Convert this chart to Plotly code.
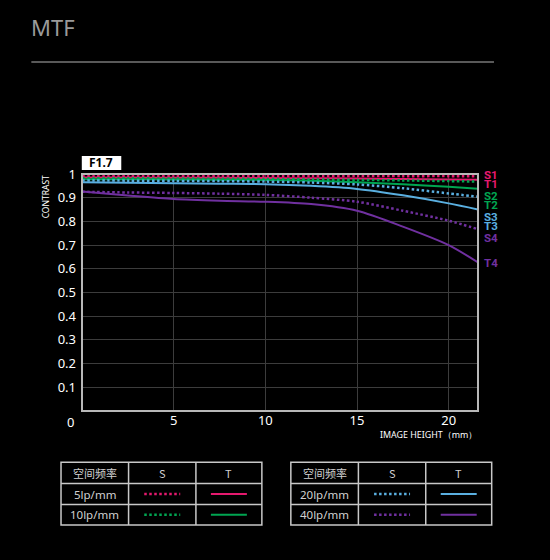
import plotly.graph_objects as go

# ---------------- data ----------------
image_height = [0, 2.5, 5, 7.5, 10, 12.5, 15, 17.5, 20, 21.6]
S1 = [0.993, 0.993, 0.993, 0.993, 0.992, 0.992, 0.992, 0.991, 0.991, 0.990]
T1 = [0.985, 0.985, 0.984, 0.984, 0.983, 0.982, 0.981, 0.979, 0.977, 0.976]
S2 = [0.982, 0.982, 0.981, 0.980, 0.979, 0.977, 0.975, 0.973, 0.970, 0.968]
T2 = [0.978, 0.978, 0.977, 0.976, 0.975, 0.971, 0.965, 0.957, 0.946, 0.938]
S3 = [0.973, 0.972, 0.971, 0.970, 0.968, 0.964, 0.956, 0.940, 0.918, 0.904]
T3 = [0.965, 0.963, 0.961, 0.959, 0.957, 0.950, 0.937, 0.910, 0.876, 0.850]
S4 = [0.925, 0.922, 0.920, 0.917, 0.912, 0.900, 0.883, 0.845, 0.803, 0.767]
T4 = [0.926, 0.909, 0.894, 0.887, 0.883, 0.873, 0.845, 0.778, 0.700, 0.627]

series_names = ["S1", "T1", "S2", "T2", "S3", "T3", "S4", "T4"]
series_values = [S1, T1, S2, T2, S3, T3, S4, T4]
label_y_px = [174.5, 183.5, 195.5, 205, 216.5, 226, 237.5, 263]

x_ticks = [5, 10, 15, 20]
y_ticks = [0.1, 0.2, 0.3, 0.4, 0.5, 0.6, 0.7, 0.8, 0.9, 1]
y_tick_labels = ["0.1", "0.2", "0.3", "0.4", "0.5", "0.6", "0.7", "0.8", "0.9", "1"]

freq_rows_left = ["5lp/mm", "10lp/mm"]
freq_rows_right = ["20lp/mm", "40lp/mm"]
header = ["空间频率", "S", "T"]

PINK = "#e5196e"
GREEN = "#00a551"
BLUE = "#5aafe0"
PURPLE = "#7030a0"
colors = [PINK, PINK, GREEN, GREEN, BLUE, BLUE, PURPLE, PURPLE]

# ---------------- layout geometry (pixels) ----------------
W, H = 550, 560
PL, PR, PT, PB = 81.7, 478.0, 174.0, 411.0


def px(x):
    return (x - PL) / (PR - PL)


def py(y):
    return (PB - y) / (PB - PT)


FONT = "Noto Sans"
DOT = "2.5px,2.5px"

fig = go.Figure()
for name, vals, col in zip(series_names, series_values, colors):
    is_s = name.startswith("S")
    fig.add_trace(go.Scatter(
        x=image_height, y=vals, mode="lines", name=name,
        line=dict(color=col, width=2.5 if is_s else 2.0,
                  dash=DOT if is_s else "solid",
                  shape="spline", smoothing=0.8),
        showlegend=False, hoverinfo="skip"))

shapes = []
annotations = []

# plot box
shapes.append(dict(type="rect", xref="paper", yref="paper", x0=0, x1=1, y0=0, y1=1,
                   line=dict(color="#b8b8b8", width=2), layer="above"))
# header line under title
shapes.append(dict(type="line", xref="paper", yref="paper", x0=px(31), x1=px(494),
                   y0=py(62), y1=py(62), line=dict(color="#777777", width=1.5)))

annotations.append(dict(text="MTF", xref="paper", yref="paper", x=px(29), y=py(27),
                        xanchor="left", yanchor="middle", showarrow=False,
                        font=dict(family=FONT, size=22, color="#9a9a9a")))

# F1.7 box
shapes.append(dict(type="rect", xref="paper", yref="paper", x0=px(81.5), x1=px(121),
                   y0=py(170), y1=py(156), fillcolor="white", line=dict(width=0)))
annotations.append(dict(text="<b>F1.7</b>", xref="paper", yref="paper", x=px(101), y=py(163),
                        xanchor="center", yanchor="middle", showarrow=False,
                        font=dict(family=FONT, size=12, color="black")))

annotations.append(dict(text="CONTRAST", xref="paper", yref="paper", x=px(45), y=py(197),
                        xanchor="center", yanchor="middle", showarrow=False, textangle=-90,
                        font=dict(family=FONT, size=8.5, color="white")))
annotations.append(dict(text="0", xref="paper", yref="paper", x=px(70), y=py(421.5),
                        xanchor="center", yanchor="middle", showarrow=False,
                        font=dict(family=FONT, size=13, color="white")))
annotations.append(dict(text="IMAGE HEIGHT（mm）", xref="paper", yref="paper", x=px(479), y=py(434),
                        xanchor="right", yanchor="middle", showarrow=False,
                        font=dict(family=FONT, size=8.9, color="white")))

# series labels on the right
for name, yp, col in zip(series_names, label_y_px, colors):
    annotations.append(dict(text="<b>" + name + "</b>", xref="paper", yref="paper", x=px(482), y=py(yp),
                            xanchor="left", yanchor="middle", showarrow=False,
                            font=dict(family="Roboto", size=11.5, color=col)))


# tables
def table(x0, rows, row_colors):
    cols = [x0, x0 + 67.6, x0 + 135, x0 + 201]
    ys = [462.3, 483.5, 504.5, 525]
    bc = "#c8c8c8"
    shapes.append(dict(type="rect", xref="paper", yref="paper", x0=px(cols[0]), x1=px(cols[3]),
                       y0=py(ys[0]), y1=py(ys[3]), line=dict(color=bc, width=1.5)))
    for c in cols[1:3]:
        shapes.append(dict(type="line", xref="paper", yref="paper", x0=px(c), x1=px(c),
                           y0=py(ys[0]), y1=py(ys[3]), line=dict(color=bc, width=1.5)))
    for r in ys[1:3]:
        shapes.append(dict(type="line", xref="paper", yref="paper", x0=px(cols[0]), x1=px(cols[3]),
                           y0=py(r), y1=py(r), line=dict(color=bc, width=1.5)))
    for i, h in enumerate(header):
        annotations.append(dict(text=h, xref="paper", yref="paper",
                                x=px((cols[i] + cols[i + 1]) / 2), y=py((ys[0] + ys[1]) / 2),
                                xanchor="center", yanchor="middle", showarrow=False,
                                font=dict(family="Noto Sans CJK SC", size=11, color="#d0d0d0")))
    for j, (lab, col) in enumerate(zip(rows, row_colors)):
        yc = (ys[j + 1] + ys[j + 2]) / 2
        annotations.append(dict(text=lab, xref="paper", yref="paper",
                                x=px((cols[0] + cols[1]) / 2), y=py(yc),
                                xanchor="center", yanchor="middle", showarrow=False,
                                font=dict(family=FONT, size=11.5, color="#d0d0d0")))
        cx = (cols[1] + cols[2]) / 2
        shapes.append(dict(type="line", xref="paper", yref="paper", x0=px(cx - 18), x1=px(cx + 18),
                           y0=py(yc), y1=py(yc), line=dict(color=col, width=2.5, dash=DOT)))
        cx = (cols[2] + cols[3]) / 2
        shapes.append(dict(type="line", xref="paper", yref="paper", x0=px(cx - 18), x1=px(cx + 18),
                           y0=py(yc), y1=py(yc), line=dict(color=col, width=2.2)))


table(60.7, freq_rows_left, [PINK, GREEN])
table(290.7, freq_rows_right, [BLUE, PURPLE])

fig.update_layout(
    width=W, height=H,
    margin=dict(l=PL, r=W - PR, t=PT, b=H - PB, pad=0),
    paper_bgcolor="black", plot_bgcolor="black",
    xaxis=dict(range=[0, 21.6], tickvals=x_ticks, ticktext=[str(v) for v in x_ticks],
               showgrid=True, gridcolor="#3c3c3c", gridwidth=1, zeroline=False,
               showline=False, ticks="", tickfont=dict(family=FONT, size=13, color="white")),
    yaxis=dict(range=[0, 1], tickvals=y_ticks, ticktext=y_tick_labels,
               showgrid=True, gridcolor="#3c3c3c", gridwidth=1, zeroline=False,
               showline=False, ticks="", ticklabelstandoff=5,
               tickfont=dict(family=FONT, size=13, color="white")),
    shapes=shapes, annotations=annotations,
)

fig.write_html(
    "out.html",
    config={"displayModeBar": False},
    post_script="document.body.style.margin='0';document.body.style.background='black';",
)
